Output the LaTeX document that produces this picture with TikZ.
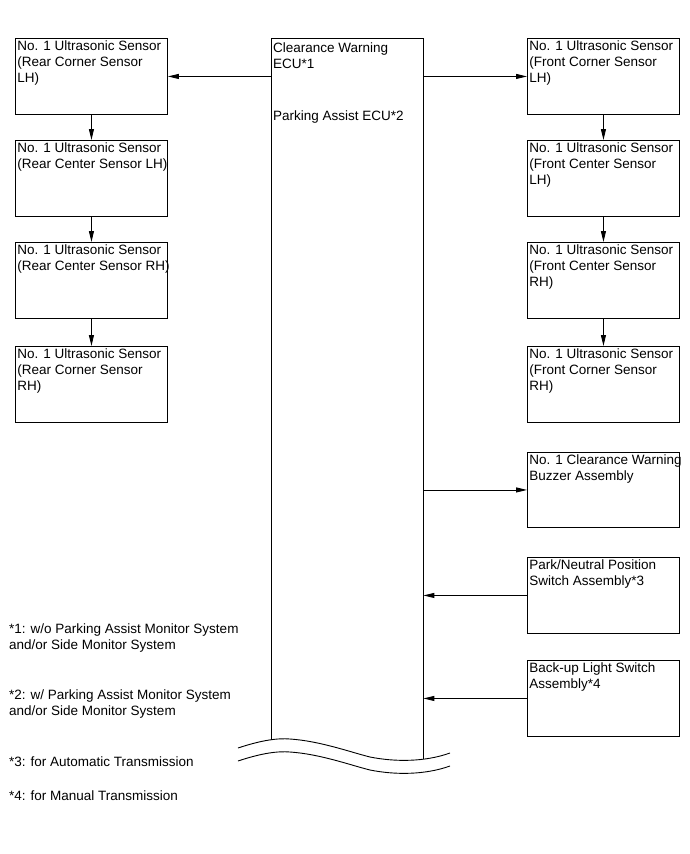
\documentclass[tikz,border=0pt]{standalone}
\usepackage{fontspec}
\setmainfont{Liberation Sans}
\usetikzlibrary{arrows.meta}

\newcommand{\celltext}[2]{\parbox[t][#1][t]{148pt}{\begin{tabular}[t]{@{}l@{}}#2\end{tabular}}}

\begin{document}
\begin{tikzpicture}[x=1pt, y=-1pt,
        box/.style={rectangle, draw=black, line width=0.9pt, anchor=north west,
            inner xsep=2pt, inner ysep=0.5pt, font=\fontsize{13.5}{16}\selectfont},
        ecubox/.style={rectangle, draw=none, anchor=north west,
            inner xsep=2pt, inner ysep=3pt, font=\fontsize{13.5}{16}\selectfont},
        note/.style={anchor=north west, inner sep=0pt, align=left,
            font=\fontsize{13.5}{16}\selectfont},
        arr/.style={-{Triangle[length=11pt,width=5pt]}, line width=0.9pt},
        wall/.style={line width=0.9pt}
      ]
      \useasboundingbox (0,0) rectangle (690,854);

      % ECU column — drawn open at the bottom
      \node[ecubox] at (271,38) (ecu) {\celltext{696pt}{Clearance Warning\\ECU*1\\[36pt]Parking Assist ECU*2}};
      \draw[wall] (ecu.south west) -- (ecu.north west) -- (ecu.north east) -- (ecu.south east) -- ++(0,19);

      % break mark
      \draw[wall] (238,748) .. controls (262,740) and (278,738) .. (290,739)
                  .. controls (320,741) and (350,752) .. (370,757)
                  .. controls (395,762) and (425,762) .. (450,753);
      \draw[wall] (238,761) .. controls (262,753) and (278,751) .. (290,752)
                  .. controls (320,754) and (350,765) .. (370,770)
                  .. controls (395,775) and (425,775) .. (450,766);

      % Rear sensors — left column, x=15
      \node[box] at (15,38)  (rclh) {\celltext{75pt}{No. 1 Ultrasonic Sensor\\(Rear Corner Sensor\\LH)}};
      \node[box] at (15,140) (rclc) {\celltext{75pt}{No. 1 Ultrasonic Sensor\\(Rear Center Sensor LH)}};
      \node[box] at (15,242) (rcrc) {\celltext{75pt}{No. 1 Ultrasonic Sensor\\(Rear Center Sensor RH)}};
      \node[box] at (15,346) (rcrh) {\celltext{75pt}{No. 1 Ultrasonic Sensor\\(Rear Corner Sensor\\RH)}};

      % Front sensors — right column, x=527
      \node[box] at (527,38)  (fclh) {\celltext{75pt}{No. 1 Ultrasonic Sensor\\(Front Corner Sensor\\LH)}};
      \node[box] at (527,140) (fclc) {\celltext{75pt}{No. 1 Ultrasonic Sensor\\(Front Center Sensor\\LH)}};
      \node[box] at (527,242) (fcrc) {\celltext{75pt}{No. 1 Ultrasonic Sensor\\(Front Center Sensor\\RH)}};
      \node[box] at (527,346) (fcrh) {\celltext{75pt}{No. 1 Ultrasonic Sensor\\(Front Corner Sensor\\RH)}};

      % Buzzer and switches
      \node[box] at (527,452) (buzz) {\celltext{74pt}{No. 1 Clearance Warning\\Buzzer Assembly}};
      \node[box] at (527,557) (pnsw) {\celltext{75pt}{Park/Neutral Position\\Switch Assembly*3}};
      \node[box] at (527,660) (bksw) {\celltext{75pt}{Back-up Light Switch\\Assembly*4}};

      % Footnotes
      \node[note] at (9,624) (nta) {*1: w/o Parking Assist Monitor System\\and/or Side Monitor System};
      \node[note] at (9,690) (ntb) {*2: w/ Parking Assist Monitor System\\and/or Side Monitor System};
      \node[note] at (9,757) (ntc) {*3: for Automatic Transmission};
      \node[note] at (9,791) (ntd) {*4: for Manual Transmission};

      % ECU to sensors
      \draw[arr] (ecu.west |- rclh.east) -- (rclh.east);
      \draw[arr] (ecu.east |- fclh.west) -- (fclh.west);

      % Rear chain
      \draw[arr] (rclh) -- (rclc);
      \draw[arr] (rclc) -- (rcrc);
      \draw[arr] (rcrc) -- (rcrh);

      % Front chain
      \draw[arr] (fclh) -- (fclc);
      \draw[arr] (fclc) -- (fcrc);
      \draw[arr] (fcrc) -- (fcrh);

      % Buzzer out, switches in
      \draw[arr] (ecu.east |- buzz.west) -- (buzz.west);
      \draw[arr] (pnsw.west) -- (ecu.east |- pnsw.west);
      \draw[arr] (bksw.west) -- (ecu.east |- bksw.west);
    \end{tikzpicture}
\end{document}
